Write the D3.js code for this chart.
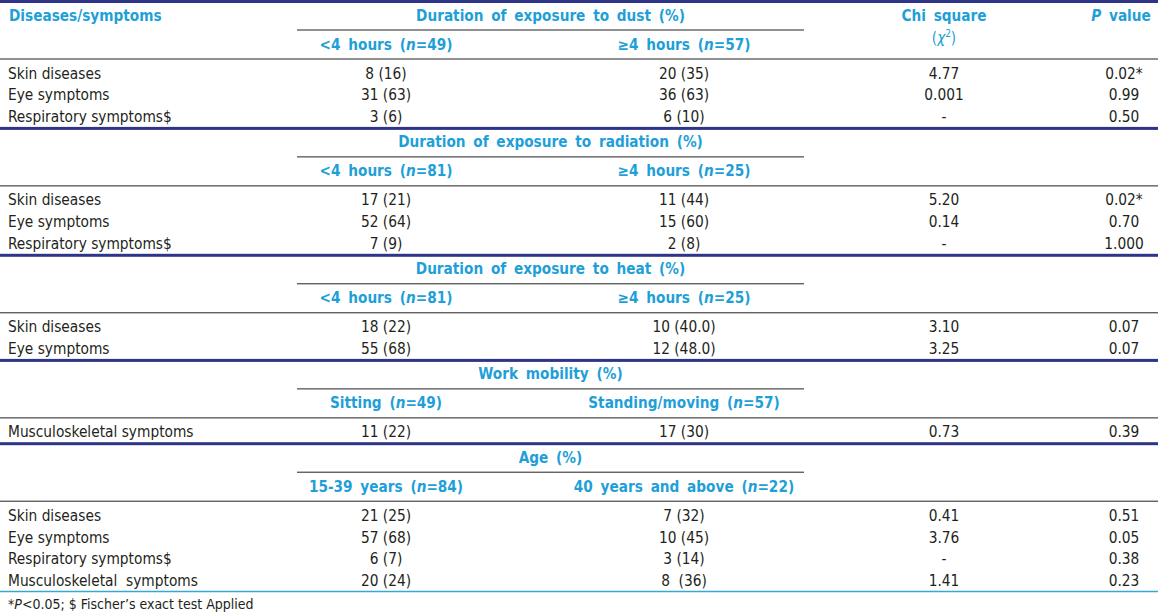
<!DOCTYPE html>
<html>
<head>
<meta charset="utf-8">
<script src="https://cdn.jsdelivr.net/npm/d3@7"></script>
<style>
    body { margin: 0; background: #fff; }
    svg { display: block; }
    text { font-family: "DejaVu Sans Condensed", "Liberation Sans Narrow", sans-serif; }
    .cell { font-size: 15.3px; fill: #231f20; white-space: pre; }
    .head { font-size: 15.2px; font-weight: bold; word-spacing: 3px; fill: #1f9fd8; }
    .note { font-size: 14px; fill: #231f20; }
</style>
</head>
<body>
<svg id="table" width="1158" height="614"></svg>
<script>
var groupTitles = ["Duration of exposure to dust (%)", "Duration of exposure to radiation (%)",
    "Duration of exposure to heat (%)", "Work mobility (%)", "Age (%)"];
var levelA = ["<4 hours", "<4 hours", "<4 hours", "Sitting", "15-39 years"];
var nA = [49, 81, 81, 49, 84];
var levelB = ["\u22654 hours", "\u22654 hours", "\u22654 hours", "Standing/moving", "40 years and above"];
var nB = [57, 25, 25, 57, 22];

var rowLabels = [
    ["Skin diseases", "Eye symptoms", "Respiratory symptoms$"],
    ["Skin diseases", "Eye symptoms", "Respiratory symptoms$"],
    ["Skin diseases", "Eye symptoms"],
    ["Musculoskeletal symptoms"],
    ["Skin diseases", "Eye symptoms", "Respiratory symptoms$", "Musculoskeletal  symptoms"]
];
var countsA = [
    ["8 (16)", "31 (63)", "3 (6)"],
    ["17 (21)", "52 (64)", "7 (9)"],
    ["18 (22)", "55 (68)"],
    ["11 (22)"],
    ["21 (25)", "57 (68)", "6 (7)", "20 (24)"]
];
var countsB = [
    ["20 (35)", "36 (63)", "6 (10)"],
    ["11 (44)", "15 (60)", "2 (8)"],
    ["10 (40.0)", "12 (48.0)"],
    ["17 (30)"],
    ["7 (32)", "10 (45)", "3 (14)", "8  (36)"]
];
var chiValues = [
    ["4.77", "0.001", "-"],
    ["5.20", "0.14", "-"],
    ["3.10", "3.25"],
    ["0.73"],
    ["0.41", "3.76", "-", "1.41"]
];
var pValues = [
    ["0.02*", "0.99", "0.50"],
    ["0.02*", "0.70", "1.000"],
    ["0.07", "0.07"],
    ["0.39"],
    ["0.51", "0.05", "0.38", "0.23"]
];

const W = 1158;
const navy = "#2e3588";
const cyan = "#1f9fd8";

const svg = d3.select("#table");

// column centres (label column is left aligned)
let colX = d3.scaleOrdinal()
    .domain(["label", "a", "b", "chi", "p"])
    .range([8, 386, 684, 944, 1124]);
let colAnchor = d3.scaleOrdinal()
    .domain(["label", "a", "b", "chi", "p"])
    .range(["start", "middle", "middle", "middle", "middle"]);

const rowH = 21.8;
const spanLeft = 297, spanRight = 804;

// work out where each block sits
var blocks = [];
var blockTop = 1.5;
for (var g = 0; g < groupTitles.length; g++) {
    var full = blockTop + 57.5;
    var rowY = d3.scaleLinear().domain([0, 1]).range([full + 19.5, full + 19.5 + rowH]);
    blocks.push({ g: g, top: blockTop, partial: blockTop + 28.5, full: full, rowY: rowY });
    blockTop = full + 4 + rowLabels[g].length * rowH;
}
var bottom = blockTop - 1;

// thick navy rules
svg.selectAll(".navy")
    .data(blocks)
    .enter()
    .append("rect")
    .attr("class", "navy")
    .attr("x", 0)
    .attr("y", d => d.g === 0 ? 0 : d.top - 1.5)
    .attr("width", W)
    .attr("height", 3)
    .attr("fill", navy);

// thin rules
svg.selectAll(".spanLine")
    .data(blocks)
    .enter()
    .append("line")
    .attr("class", "spanLine")
    .attr("x1", spanLeft).attr("x2", spanRight)
    .attr("y1", d => d.partial).attr("y2", d => d.partial)
    .attr("stroke", "#222").attr("stroke-width", 1);

svg.selectAll(".fullLine")
    .data(blocks)
    .enter()
    .append("line")
    .attr("class", "fullLine")
    .attr("x1", 0).attr("x2", W)
    .attr("y1", d => d.full).attr("y2", d => d.full)
    .attr("stroke", "#222").attr("stroke-width", 1);

svg.append("line")
    .attr("x1", 0).attr("x2", W)
    .attr("y1", bottom).attr("y2", bottom)
    .attr("stroke", "#3aa6d4").attr("stroke-width", 1.5);

// group titles
svg.selectAll(".groupTitle")
    .data(blocks)
    .enter()
    .append("text")
    .attr("class", "head groupTitle")
    .attr("x", (spanLeft + spanRight) / 2)
    .attr("y", d => d.top + 19)
    .attr("text-anchor", "middle")
    .text(d => groupTitles[d.g]);

// sub headers with italic n
function subHead(sel, key, labels, ns) {
    var t = sel.append("text")
        .attr("class", "head")
        .attr("x", colX(key))
        .attr("y", d => d.partial + 19.5)
        .attr("text-anchor", "middle");
    t.append("tspan").text(d => labels[d.g] + " (");
    t.append("tspan").attr("font-style", "italic").text("n");
    t.append("tspan").text(d => "=" + ns[d.g] + ")");
}
var bsel = svg.selectAll(".blockHead").data(blocks).enter().append("g").attr("class", "blockHead");
subHead(bsel, "a", levelA, nA);
subHead(bsel, "b", levelB, nB);

// top header row
svg.append("text")
    .attr("class", "head")
    .attr("x", colX("label") + 1)
    .attr("y", 21)
    .text("Diseases/symptoms");

svg.append("text")
    .attr("class", "head")
    .attr("x", colX("chi"))
    .attr("y", 21)
    .attr("text-anchor", "middle")
    .text("Chi square");

var chiSym = svg.append("text")
    .attr("x", colX("chi"))
    .attr("y", 43)
    .attr("text-anchor", "middle")
    .attr("fill", cyan)
    .style("font-size", "15px");
chiSym.append("tspan").text("(");
chiSym.append("tspan").attr("font-style", "italic").text("\u03c7");
chiSym.append("tspan").attr("font-size", "10px").attr("dy", -6).text("2");
chiSym.append("tspan").attr("dy", 6).text(")");

var pHead = svg.append("text")
    .attr("class", "head")
    .attr("x", colX("p") - 3)
    .attr("y", 21)
    .attr("text-anchor", "middle");
pHead.append("tspan").attr("font-style", "italic").text("P");
pHead.append("tspan").text(" value");

// body cells
var cells = [];
blocks.forEach(function (b) {
    rowLabels[b.g].forEach(function (lab, i) {
        var y = b.rowY(i);
        cells.push({ key: "label", y: y, text: lab });
        cells.push({ key: "a", y: y, text: countsA[b.g][i] });
        cells.push({ key: "b", y: y, text: countsB[b.g][i] });
        cells.push({ key: "chi", y: y, text: chiValues[b.g][i] });
        cells.push({ key: "p", y: y, text: pValues[b.g][i] });
    });
});

svg.selectAll(".cell")
    .data(cells)
    .enter()
    .append("text")
    .attr("class", "cell")
    .attr("x", d => colX(d.key))
    .attr("y", d => d.y)
    .attr("text-anchor", d => colAnchor(d.key))
    .text(d => d.text);

// footnote
var note = svg.append("text")
    .attr("class", "note")
    .attr("x", 8)
    .attr("y", bottom + 18);
note.append("tspan").text("*");
note.append("tspan").attr("font-style", "italic").text("P");
note.append("tspan").text("<0.05; $ Fischer\u2019s exact test Applied");
</script>
</body>
</html>
